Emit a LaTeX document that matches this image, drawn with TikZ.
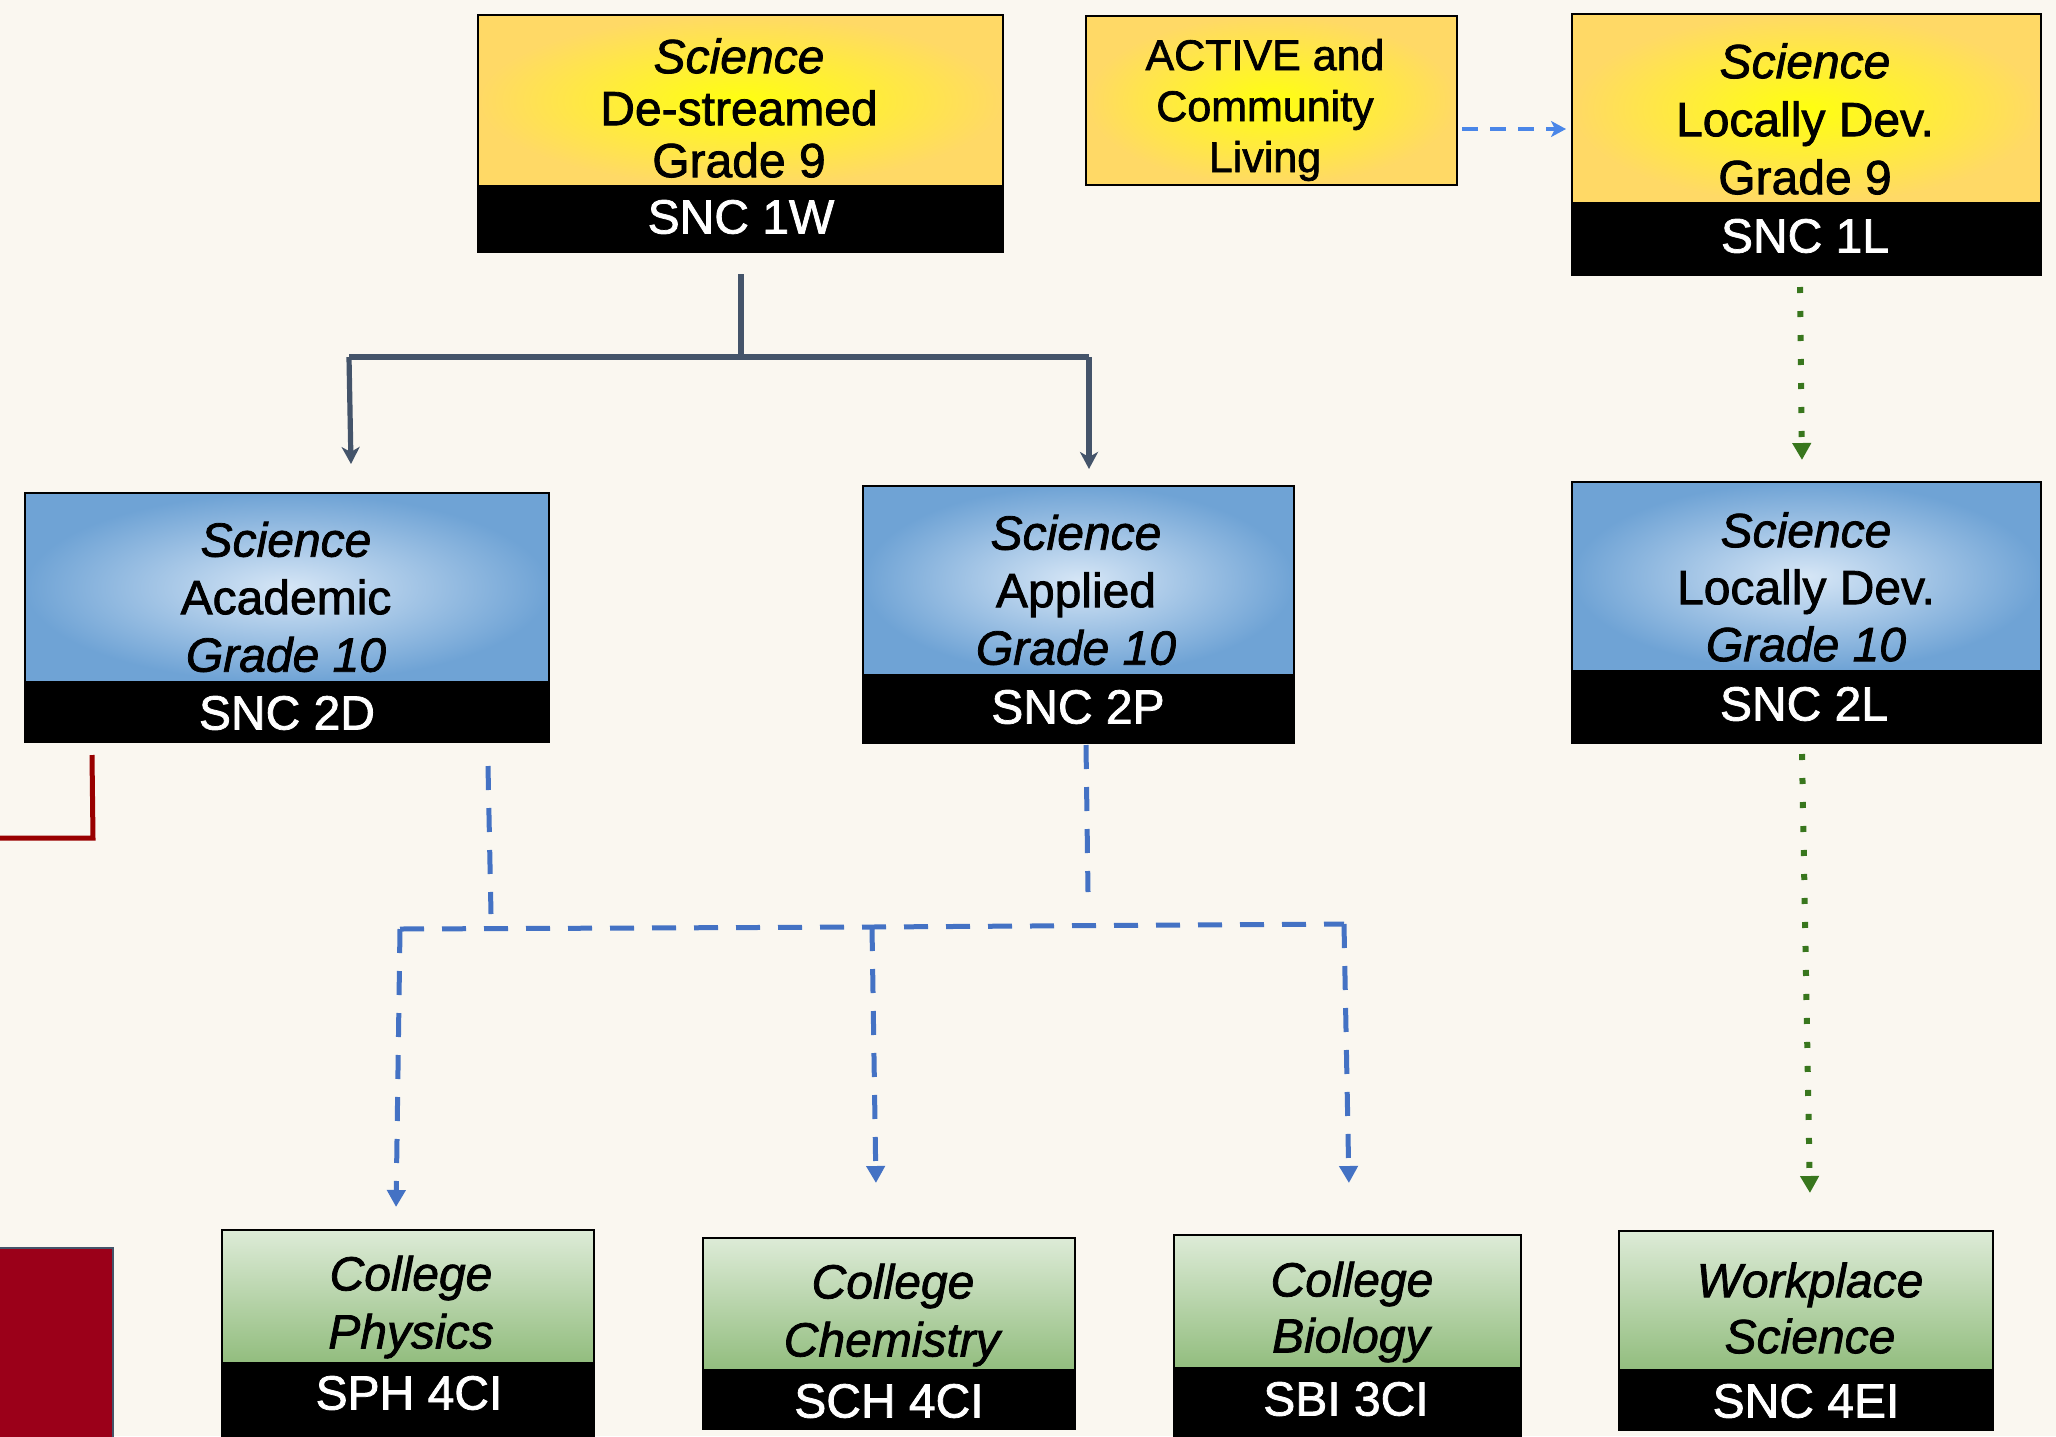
\documentclass[tikz,border=0pt]{standalone}
\usepackage{fontspec}
\setmainfont{Liberation Sans}[FakeBold=1.6]
\usetikzlibrary{arrows.meta,fit}
\definecolor{bg}{HTML}{FAF7F0}
\definecolor{ylin}{HTML}{FFFF10}
\definecolor{ylout}{HTML}{FFD966}
\definecolor{blin}{HTML}{D6E6F6}
\definecolor{blout}{HTML}{6FA3D5}
\definecolor{grtop}{HTML}{DDEBD7}
\definecolor{grbot}{HTML}{92BD7E}
\definecolor{slate}{HTML}{44546A}
\definecolor{dashblue}{HTML}{4472C4}
\definecolor{litblue}{HTML}{4A86E8}
\definecolor{dotgreen}{HTML}{38761D}
\definecolor{darkred}{HTML}{990000}
\definecolor{redbox}{HTML}{9B0019}
\tikzset{
  frame/.style={draw=black,line width=1.3pt,inner sep=0pt,outer sep=0pt},
  ybox/.style={frame,inner color=ylin,outer color=ylout},
  bbox/.style={frame,inner color=blin,outer color=blout},
  gbox/.style={frame,top color=grtop,bottom color=grbot},
  kbox/.style={frame,fill=black},
  txt/.style={align=center,inner sep=0pt,font=\fontsize{24pt}{#1}\selectfont},
  txt/.default=29pt,
  codetxt/.style={text=white,inner sep=0pt,font=\fontsize{24pt}{28pt}\selectfont},
  treeline/.style={draw=slate,line width=2.6pt},
  treearrow/.style={treeline,-{Stealth[length=8.5pt,width=9pt,inset=2.5pt]}},
  bluedash/.style={draw=dashblue,line width=2.5pt,dash pattern=on 12pt off 9pt},
  bluearrow/.style={bluedash,-{Triangle[length=8.5pt,width=9pt,sep=2pt]}},
  litarrow/.style={draw=litblue,line width=2pt,dash pattern=on 8pt off 6pt,-{Stealth[length=7.5pt,width=8pt,inset=2pt,sep=1pt]}},
  greendot/.style={draw=dotgreen,line width=3pt,dash pattern=on 3pt off 9pt,-{Triangle[length=8.5pt,width=9pt,sep=2pt]}},
  redline/.style={draw=darkred,line width=2.5pt}
}
\begin{document}
\begin{tikzpicture}[x=0.5pt,y=-0.5pt]
\fill[bg] (0,0) rectangle (2056,1436);
\useasboundingbox (0,0) rectangle (2056,1436);

% ---------- Grade 9 ----------
\node[ybox,fit={(478,15)(1003,186)}] (w1top) {};
\node[kbox,fit={(478,186)(1003,252)}] (w1code) {};
\node[txt=26pt] (w1txt) at (739,108) {\textit{Science}\\De-streamed\\Grade 9};
\node[codetxt] (w1c) at (741,217) {SNC 1W};

\node[ybox,fit={(1086,16)(1457,185)}] (act) {};
\node[txt=25.5pt,font=\fontsize{21.5pt}{25.5pt}\selectfont] (acttxt) at (1265,110) {ACTIVE and\\Community\\Living};

\node[ybox,fit={(1572,14)(2041,203)}] (l1top) {};
\node[kbox,fit={(1572,203)(2041,275)}] (l1code) {};
\node[txt=29pt] (l1txt) at (1805,119) {\textit{Science}\\Locally Dev.\\Grade 9};
\node[codetxt] (l1c) at (1805,236) {SNC 1L};

% ---------- Grade 10 ----------
\node[bbox,fit={(25,493)(549,682)}] (d2top) {};
\node[kbox,fit={(25,682)(549,742)}] (d2code) {};
\node[txt=28.75pt] (d2txt) at (286,597) {\textit{Science}\\Academic\\\textit{Grade 10}};
\node[codetxt] (d2c) at (287,713) {SNC 2D};

\node[bbox,fit={(863,486)(1294,675)}] (p2top) {};
\node[kbox,fit={(863,675)(1294,743)}] (p2code) {};
\node[txt=28.75pt] (p2txt) at (1076,590) {\textit{Science}\\Applied\\\textit{Grade 10}};
\node[codetxt] (p2c) at (1078,707) {SNC 2P};

\node[bbox,fit={(1572,482)(2041,671)}] (l2top) {};
\node[kbox,fit={(1572,671)(2041,743)}] (l2code) {};
\node[txt=28.5pt] (l2txt) at (1806,587) {\textit{Science}\\Locally Dev.\\\textit{Grade 10}};
\node[codetxt] (l2c) at (1804,704) {SNC 2L};

% ---------- Grade 11/12 ----------
\node[gbox,fit={(222,1230)(594,1363)}] (phtop) {};
\node[kbox,fit={(222,1363)(594,1450)}] (phcode) {};
\node[txt=29pt] (phtxt) at (411,1307) {\textit{College}\\\textit{Physics}};
\node[codetxt] (phc) at (409,1393) {SPH 4CI};

\node[gbox,fit={(703,1238)(1075,1370)}] (chtop) {};
\node[kbox,fit={(703,1370)(1075,1429)}] (chcode) {};
\node[txt=29pt] (chtxt) at (893,1315) {\textit{College}\\\textit{Chemistry}};
\node[codetxt] (chc) at (889,1401) {SCH 4CI};

\node[gbox,fit={(1174,1235)(1521,1368)}] (bitop) {};
\node[kbox,fit={(1174,1368)(1521,1450)}] (bicode) {};
\node[txt=28pt] (bitxt) at (1352,1312) {\textit{College}\\\textit{Biology}};
\node[codetxt] (bic) at (1346,1399) {SBI 3CI};

\node[gbox,fit={(1619,1231)(1993,1370)}] (wptop) {};
\node[kbox,fit={(1619,1370)(1993,1430)}] (wpcode) {};
\node[txt=28pt] (wptxt) at (1810,1308) {\textit{Workplace}\\\textit{Science}};
\node[codetxt] (wpc) at (1806,1401) {SNC 4EI};

% ---------- red pieces ----------
\node[fill=redbox,draw=slate,line width=0.8pt,inner sep=0pt,fit={(-5,1248)(113,1445)}] (redrect) {};
\coordinate (r1) at (92,755);
\coordinate (r2) at (93,838);
\coordinate (r3) at (-5,838);
\draw[redline] (r1) -- (r2) -- (r3);

% ---------- connectors ----------
\coordinate (tA) at (741,274);
\coordinate (tB) at (741,357);
\coordinate (tL) at (349,357);
\coordinate (tR) at (1089,357);
\coordinate (tLe) at (351,464);
\coordinate (tRe) at (1089,469);
\draw[treeline] (tA) -- (tB);
\draw[treeline] (tL) -- (tR);
\draw[treearrow] (tL) -- (tLe);
\draw[treearrow] (tR) -- (tRe);

\coordinate (aS) at (1462,129);
\coordinate (aE) at (1568,129);
\draw[litarrow] (aS) -- (aE);

\coordinate (g1) at (1800,287);
\coordinate (g2) at (1802,464);
\coordinate (g3) at (1802,754);
\coordinate (g4) at (1810,1197);
\draw[greendot] (g1) -- (g2);
\draw[greendot] (g3) -- (g4);

\coordinate (bD1) at (488,766);
\coordinate (bD2) at (491,914);
\coordinate (bP1) at (1086,745);
\coordinate (bP2) at (1088,892);
\coordinate (hL) at (400,929);
\coordinate (hM) at (872,927);
\coordinate (hR) at (1344,924);
\coordinate (ePh) at (396,1211);
\coordinate (eCh) at (876,1187);
\coordinate (eBi) at (1349,1187);
\draw[bluedash] (bD1) -- (bD2);
\draw[bluedash] (bP1) -- (bP2);
\draw[bluedash] (hL) -- (hM) -- (hR);
\draw[bluearrow] (hL) -- (ePh);
\draw[bluearrow] (hM) -- (eCh);
\draw[bluearrow] (hR) -- (eBi);
\end{tikzpicture}
\end{document}
